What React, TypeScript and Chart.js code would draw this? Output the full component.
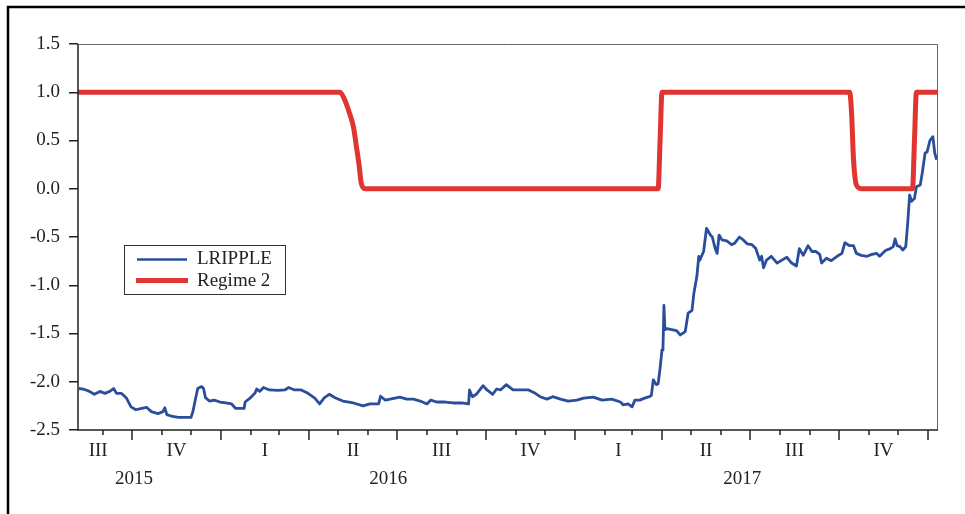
import React, { useEffect, useRef } from "react";
import { Chart, registerables } from "chart.js";
Chart.register(...registerables);

// x values are day numbers counted from 2015-07-01 (day 0)
const lrippleDays = [37, 43, 48, 53, 59, 64, 69, 73, 76, 81, 86, 91, 96, 102, 107, 112, 119, 124, 126, 128, 134, 140, 146, 153, 155, 157, 160, 164, 166, 168, 172, 177, 183, 189, 195, 199, 203, 208, 209, 214, 219, 221, 224, 228, 234, 243, 250, 254, 260, 267, 274, 281, 286, 291, 296, 302, 310, 321, 331, 338, 347, 349, 354, 359, 364, 369, 376, 383, 390, 397, 401, 407, 416, 424, 433, 440, 441, 444, 448, 455, 459, 465, 469, 473, 479, 486, 493, 502, 509, 514, 521, 527, 535, 543, 552, 559, 569, 578, 588, 597, 600, 605, 609, 612, 617, 622, 627, 629, 631, 634, 636, 638, 640, 641, 642, 643, 645, 650, 655, 659, 664, 667, 671, 673, 676, 678, 679, 683, 686, 690, 692, 695, 697, 699, 702, 707, 712, 715, 720, 724, 728, 733, 737, 741, 743, 745, 748, 753, 759, 764, 769, 774, 779, 782, 786, 791, 795, 799, 803, 805, 810, 815, 821, 826, 829, 834, 838, 841, 846, 852, 857, 862, 865, 871, 876, 879, 881, 883, 886, 889, 892, 894, 896, 898, 901, 903, 907, 909, 912, 914, 917, 920, 922, 924];
const lrippleValues = [-2.07, -2.08, -2.10, -2.13, -2.10, -2.12, -2.10, -2.07, -2.12, -2.12, -2.165, -2.26, -2.29, -2.275, -2.265, -2.31, -2.33, -2.31, -2.27, -2.34, -2.36, -2.37, -2.37, -2.37, -2.31, -2.21, -2.07, -2.05, -2.07, -2.165, -2.20, -2.19, -2.21, -2.22, -2.23, -2.275, -2.275, -2.275, -2.21, -2.17, -2.12, -2.075, -2.10, -2.06, -2.085, -2.09, -2.085, -2.06, -2.085, -2.085, -2.12, -2.17, -2.23, -2.165, -2.13, -2.165, -2.20, -2.22, -2.25, -2.23, -2.23, -2.15, -2.19, -2.18, -2.17, -2.16, -2.18, -2.18, -2.20, -2.23, -2.19, -2.21, -2.21, -2.22, -2.22, -2.23, -2.085, -2.155, -2.13, -2.04, -2.085, -2.13, -2.075, -2.085, -2.03, -2.085, -2.085, -2.085, -2.12, -2.155, -2.18, -2.155, -2.18, -2.20, -2.19, -2.17, -2.16, -2.19, -2.18, -2.21, -2.24, -2.23, -2.26, -2.19, -2.19, -2.17, -2.155, -2.14, -1.98, -2.03, -2.02, -1.86, -1.67, -1.65, -1.21, -1.46, -1.45, -1.46, -1.47, -1.515, -1.48, -1.29, -1.26, -1.08, -0.91, -0.70, -0.74, -0.65, -0.41, -0.48, -0.50, -0.62, -0.67, -0.48, -0.53, -0.54, -0.58, -0.565, -0.50, -0.53, -0.57, -0.58, -0.62, -0.74, -0.70, -0.82, -0.74, -0.70, -0.77, -0.74, -0.71, -0.77, -0.80, -0.62, -0.69, -0.59, -0.65, -0.65, -0.68, -0.77, -0.72, -0.745, -0.70, -0.67, -0.56, -0.59, -0.59, -0.67, -0.69, -0.70, -0.68, -0.67, -0.70, -0.64, -0.62, -0.60, -0.52, -0.59, -0.60, -0.635, -0.60, -0.36, -0.065, -0.13, -0.10, 0.02, 0.04, 0.16, 0.37, 0.38, 0.50, 0.54, 0.37, 0.30];

const regimeDays = [36, 307, 312, 317, 321, 324, 327, 329, 333, 636, 638, 640, 834, 836, 838, 841, 846, 899, 901, 903, 925];
const regimeValues = [1, 1, 0.92, 0.78, 0.64, 0.44, 0.23, 0.06, 0, 0, 0.5, 1, 1, 0.78, 0.3, 0.04, 0, 0, 0.5, 1, 1];

const seriesNames = ["LRIPPLE", "Regime 2"];

const quarterTickDays = [92, 184, 275, 366, 458, 550, 640, 731, 823, 915];
const monthTickDays = [62, 123, 153, 215, 244, 305, 336, 397, 428, 489, 519, 581, 609, 670, 701, 762, 793, 854, 884];
const quarterLabels = ["III", "IV", "I", "II", "III", "IV", "I", "II", "III", "IV"];
const quarterLabelDays = [57, 138, 229.5, 320.5, 412, 504, 595, 685.5, 777, 869];
const yearLabels = ["2015", "2016", "2017"];
const yearLabelDays = [94, 357, 723];

const X_MIN = 36.2;
const X_MAX = 924.3;
const Y_MIN = -2.5;
const Y_MAX = 1.5;
const Y_STEP = 0.5;

const BLUE = "#2A4D9C";
const RED = "#E03530";
const FONT = '"Liberation Serif", "Times New Roman", serif';

export default function App() {
  const ref = useRef<HTMLCanvasElement>(null);

  useEffect(() => {
    document.body.style.margin = "0";
    const canvas = ref.current;
    if (!canvas) return;

    const decor = {
      id: "decor",
      afterDraw(chart: any) {
        const { ctx, chartArea: a, scales } = chart;
        const xs = scales.x;
        ctx.save();
        // outer frame (left and top)
        ctx.strokeStyle = "#000";
        ctx.lineWidth = 2.5;
        ctx.beginPath();
        ctx.moveTo(8, 514);
        ctx.lineTo(8, 7);
        ctx.lineTo(965, 7);
        ctx.stroke();
        // plot frame
        ctx.lineWidth = 1;
        ctx.strokeStyle = "#666";
        ctx.beginPath();
        ctx.moveTo(a.left, a.top + 0.5);
        ctx.lineTo(a.right + 0.5, a.top + 0.5);
        ctx.lineTo(a.right + 0.5, a.bottom);
        ctx.stroke();
        ctx.lineWidth = 1.5;
        ctx.strokeStyle = "#222";
        ctx.beginPath();
        ctx.moveTo(a.left, a.top);
        ctx.lineTo(a.left, a.bottom);
        ctx.lineTo(a.right + 1, a.bottom);
        ctx.stroke();
        // x tick marks
        ctx.lineWidth = 1.5;
        quarterTickDays.forEach((d) => {
          const px = xs.getPixelForValue(d);
          ctx.beginPath();
          ctx.moveTo(px, a.bottom);
          ctx.lineTo(px, a.bottom + 10);
          ctx.stroke();
        });
        monthTickDays.forEach((d) => {
          const px = xs.getPixelForValue(d);
          ctx.beginPath();
          ctx.moveTo(px, a.bottom);
          ctx.lineTo(px, a.bottom + 5);
          ctx.stroke();
        });
        // x labels
        ctx.fillStyle = "#222";
        ctx.font = `19px ${FONT}`;
        ctx.textAlign = "center";
        ctx.textBaseline = "middle";
        quarterLabels.forEach((t, i) => {
          ctx.fillText(t, xs.getPixelForValue(quarterLabelDays[i]), a.bottom + 21);
        });
        yearLabels.forEach((t, i) => {
          ctx.fillText(t, xs.getPixelForValue(yearLabelDays[i]), a.bottom + 49);
        });
        // legend
        ctx.lineWidth = 1;
        ctx.strokeStyle = "#333";
        ctx.strokeRect(124.5, 245.5, 161, 49);
        ctx.lineCap = "butt";
        ctx.strokeStyle = BLUE;
        ctx.lineWidth = 2.5;
        ctx.beginPath();
        ctx.moveTo(137, 259.5);
        ctx.lineTo(187, 259.5);
        ctx.stroke();
        ctx.strokeStyle = RED;
        ctx.lineWidth = 5;
        ctx.beginPath();
        ctx.moveTo(136, 280.5);
        ctx.lineTo(188, 280.5);
        ctx.stroke();
        ctx.fillStyle = "#222";
        ctx.font = `19px ${FONT}`;
        ctx.textAlign = "left";
        ctx.fillText(seriesNames[0], 197, 259.5);
        ctx.fillText(seriesNames[1], 197, 281);
        ctx.restore();
      },
    };

    const chart = new Chart(canvas, {
      type: "line",
      data: {
        datasets: [
          {
            label: seriesNames[1],
            data: regimeDays.map((d, i) => ({ x: d, y: regimeValues[i] })),
            borderColor: RED,
            backgroundColor: RED,
            borderWidth: 5,
            pointRadius: 0,
            cubicInterpolationMode: "monotone",
            order: 0,
          },
          {
            label: seriesNames[0],
            data: lrippleDays.map((d, i) => ({ x: d, y: lrippleValues[i] })),
            borderColor: BLUE,
            backgroundColor: BLUE,
            borderWidth: 2.8,
            pointRadius: 0,
            tension: 0,
            borderJoinStyle: "round",
            order: 1,
          },
        ],
      },
      options: {
        animation: false,
        responsive: false,
        maintainAspectRatio: false,
        layout: { padding: { top: 44, right: 28, left: 0, bottom: 0 } },
        plugins: { legend: { display: false }, tooltip: { enabled: false } },
        scales: {
          x: {
            type: "linear",
            min: X_MIN,
            max: X_MAX,
            afterFit(s: any) {
              s.height = 84;
            },
            ticks: { display: false },
            grid: { display: false },
            border: { display: false },
          },
          y: {
            min: Y_MIN,
            max: Y_MAX,
            afterFit(s: any) {
              s.width = 78;
            },
            ticks: {
              stepSize: Y_STEP,
              callback: (v: any) => Number(v).toFixed(1),
              font: { family: FONT, size: 19 },
              color: "#222",
              padding: 9,
            },
            grid: {
              drawOnChartArea: false,
              drawTicks: true,
              tickLength: 9,
              color: "#222",
              lineWidth: 1.5,
            },
            border: { display: false },
          },
        },
      },
      plugins: [decor],
    });
    return () => chart.destroy();
  }, []);

  return (
    <div style={{ width: 965, height: 514, position: "relative", background: "#fff" }}>
      <canvas ref={ref} width={965} height={514} style={{ display: "block" }} />
    </div>
  );
}
